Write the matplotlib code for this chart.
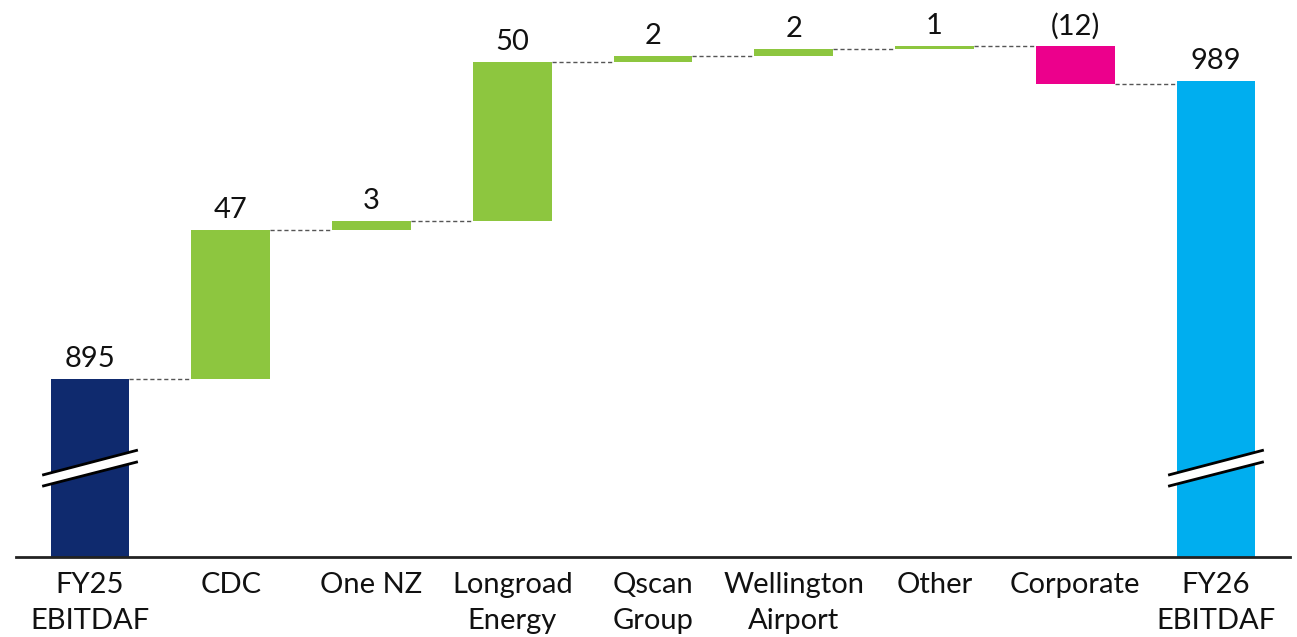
import matplotlib
matplotlib.use("Agg")
import matplotlib.pyplot as plt
import numpy as np

categories = ["FY25\nEBITDAF", "CDC", "One NZ", "Longroad\nEnergy", "Qscan\nGroup",
              "Wellington\nAirport", "Other", "Corporate", "FY26\nEBITDAF"]
start_value = 895
deltas = [47, 3, 50, 2, 2, 1, -12]
end_value = 989
value_labels = ["895", "47", "3", "50", "2", "2", "1", "(12)", "989"]

c_start = "#0F2A6E"
c_pos = "#8DC63F"
c_neg = "#EC008C"
c_end = "#00AEEF"

plt.rcParams['font.family'] = ['Lato', 'DejaVu Sans']

fig = plt.figure(figsize=(12.97, 6.37), dpi=100)
ax = fig.add_axes([16/1297, 80/637, (1290-16)/1297, 557/637])

n = len(categories)
x = np.arange(n)
width = 0.56
ymin = 838.8
ymax = 1014.6

bottoms, heights, colors = [], [], []
bottoms.append(ymin); heights.append(start_value - ymin); colors.append(c_start)
running = start_value
levels = [running]
for d in deltas:
    if d >= 0:
        bottoms.append(running); heights.append(d); colors.append(c_pos)
    else:
        bottoms.append(running + d); heights.append(-d); colors.append(c_neg)
    running += d
    levels.append(running)
bottoms.append(ymin); heights.append(end_value - ymin); colors.append(c_end)

ax.bar(x, heights, bottom=bottoms, width=width, color=colors, zorder=2)

for i in range(n - 1):
    lvl = levels[i]
    ax.plot([x[i] + width/2, x[i+1] - width/2], [lvl, lvl], ls=(0, (3, 2)),
            color="#555555", lw=1.0, zorder=1)

tops = [b + h for b, h in zip(bottoms, heights)]
for i in range(n):
    ax.annotate(value_labels[i], (x[i], tops[i]), xytext=(0, 5), textcoords="offset points",
                ha="center", va="bottom", fontsize=21, color="#111111")

trans = matplotlib.transforms.blended_transform_factory(ax.transData, ax.transAxes)
for i in [0, n - 1]:
    xl, xr = x[i] - 0.34, x[i] + 0.34
    poly = plt.Polygon([[xl, 0.147], [xr, 0.192], [xr, 0.171], [xl, 0.127]],
                       closed=True, facecolor="white", edgecolor="none",
                       transform=trans, zorder=3)
    ax.add_patch(poly)
    ax.plot([xl, xr], [0.147, 0.192], color="black", lw=2, transform=trans, zorder=4,
            solid_capstyle="butt")
    ax.plot([xl, xr], [0.127, 0.171], color="black", lw=2, transform=trans, zorder=4,
            solid_capstyle="butt")

ax.set_xlim(-0.526, 8.526)
ax.set_ylim(ymin, ymax)
ax.set_xticks(x)
ax.set_xticklabels(categories, fontsize=21, linespacing=1.45, color="#111111")
ax.tick_params(axis="x", length=0, pad=11)
ax.set_yticks([])
for s in ["top", "left", "right"]:
    ax.spines[s].set_visible(False)
ax.spines["bottom"].set_linewidth(2)
ax.spines["bottom"].set_color("#222222")
ax.spines["bottom"].set_zorder(5)

fig.savefig("out.png", dpi=100)
